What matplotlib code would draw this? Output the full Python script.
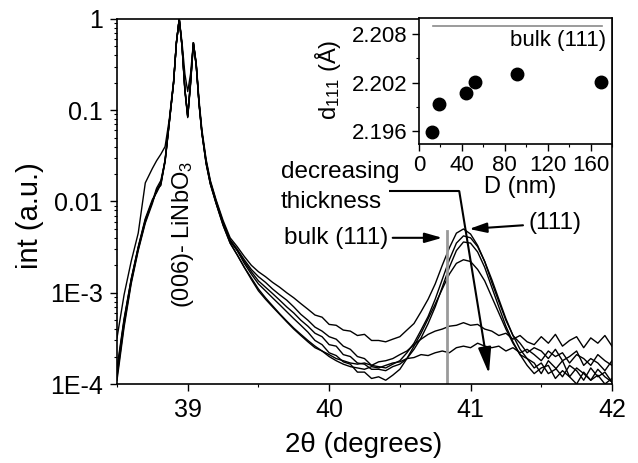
import matplotlib
matplotlib.use('Agg')
import matplotlib.pyplot as plt
from matplotlib.ticker import MultipleLocator, LogLocator, NullFormatter

plt.rcParams['font.family'] = ['Liberation Sans', 'DejaVu Sans']
plt.rcParams['mathtext.default'] = 'regular'

# 2theta sampling (degrees): dense around the (006) LiNbO3 doublet, 0.05 steps after
two_theta = [38.50, 38.55, 38.60, 38.65, 38.70, 38.75, 38.78, 38.81, 38.84, 38.87,
             38.90, 38.92, 38.94, 38.96, 38.98, 39.00, 39.02, 39.04, 39.06, 39.08,
             39.10, 39.13, 39.16, 39.20, 39.25, 39.30,
             39.35, 39.40, 39.45, 39.50, 39.55, 39.60, 39.65, 39.70, 39.75, 39.80,
             39.85, 39.90, 39.95, 40.00, 40.05, 40.10, 40.15, 40.20, 40.25, 40.30,
             40.35, 40.40, 40.45, 40.50, 40.55, 40.60, 40.65, 40.70, 40.75, 40.80,
             40.85, 40.90, 40.95, 41.00, 41.05, 41.10, 41.15, 41.20, 41.25, 41.30,
             41.35, 41.40, 41.45, 41.50, 41.55, 41.60, 41.65, 41.70, 41.75, 41.80,
             41.85, 41.90, 41.95, 42.00]

# normalised intensity of the six films (thick -> thin)
int_a = [3.2e-4, 9.5e-4, 2.2e-3, 4.5e-3, 1.6e-2, 2.3e-2, 2.8e-2, 3.3e-2, 4.0e-2, 8.0e-2,
         0.21, 0.55, 1.0, 0.55, 0.25, 0.16, 0.25, 0.55, 0.33, 0.13,
         0.062, 0.029, 0.017, 0.0105, 0.0062, 0.0040,
         3.2e-3, 2.5e-3, 2.0e-3, 1.7e-3, 1.5e-3, 1.3e-3, 1.15e-3, 1.0e-3, 8.8e-4, 7.6e-4,
         6.6e-4, 5.7e-4, 5.4e-4, 4.5e-4, 4.4e-4, 3.9e-4, 3.8e-4, 3.4e-4, 3.5e-4, 3.0e-4,
         3.0e-4, 2.9e-4, 3.1e-4, 3.3e-4, 3.9e-4, 4.6e-4, 6.2e-4, 8.5e-4, 1.25e-3, 2.0e-3,
         3.1e-3, 4.5e-3, 5.0e-3, 4.4e-3, 3.3e-3, 2.2e-3, 1.3e-3, 8.0e-4, 5.0e-4, 3.4e-4,
         2.8e-4, 2.2e-4, 2.5e-4, 2.3e-4, 1.9e-4, 2.4e-4, 1.8e-4, 2.0e-4, 2.3e-4, 1.6e-4,
         1.9e-4, 1.7e-4, 1.4e-4, 1.8e-4]
int_b = [1.2e-4, 4.5e-4, 1.3e-3, 3.0e-3, 6.0e-3, 1.0e-2, 1.3e-2, 1.6e-2, 2.8e-2, 7.5e-2,
         0.20, 0.55, 1.0, 0.50, 0.17, 0.085, 0.20, 0.55, 0.32, 0.12,
         0.058, 0.027, 0.016, 0.0100, 0.0058, 0.0038,
         3.0e-3, 2.3e-3, 1.8e-3, 1.5e-3, 1.3e-3, 1.1e-3, 9.5e-4, 8.3e-4, 7.0e-4, 5.8e-4,
         5.0e-4, 4.2e-4, 3.8e-4, 3.3e-4, 3.1e-4, 2.6e-4, 2.4e-4, 2.0e-4, 1.9e-4, 1.6e-4,
         1.55e-4, 1.5e-4, 1.65e-4, 1.8e-4, 2.2e-4, 2.8e-4, 3.9e-4, 5.5e-4, 8.5e-4, 1.4e-3,
         2.3e-3, 3.5e-3, 4.2e-3, 4.0e-3, 3.2e-3, 2.2e-3, 1.4e-3, 8.5e-4, 5.2e-4, 3.4e-4,
         2.4e-4, 1.9e-4, 1.7e-4, 1.3e-4, 1.8e-4, 1.5e-4, 1.2e-4, 1.6e-4, 1.4e-4, 1.1e-4,
         1.5e-4, 1.2e-4, 1.35e-4, 1.05e-4]
int_c = [1.5e-4, 5.2e-4, 1.4e-3, 3.2e-3, 6.5e-3, 1.05e-2, 1.25e-2, 1.55e-2, 2.7e-2, 7.3e-2,
         0.20, 0.54, 1.0, 0.50, 0.17, 0.086, 0.20, 0.54, 0.31, 0.12,
         0.058, 0.028, 0.0165, 0.0102, 0.0059, 0.0037,
         2.9e-3, 2.2e-3, 1.7e-3, 1.35e-3, 1.15e-3, 9.8e-4, 8.3e-4, 7.0e-4, 6.0e-4, 5.0e-4,
         4.3e-4, 3.6e-4, 3.3e-4, 2.7e-4, 2.6e-4, 2.1e-4, 2.0e-4, 1.7e-4, 1.65e-4, 1.45e-4,
         1.45e-4, 1.4e-4, 1.55e-4, 1.65e-4, 1.9e-4, 2.4e-4, 3.2e-4, 4.6e-4, 7.0e-4, 1.15e-3,
         1.9e-3, 2.9e-3, 3.6e-3, 3.5e-3, 2.8e-3, 1.9e-3, 1.15e-3, 7.0e-4, 4.3e-4, 2.9e-4,
         2.1e-4, 1.6e-4, 1.3e-4, 1.5e-4, 1.6e-4, 1.15e-4, 1.4e-4, 1.2e-4, 1.0e-4, 1.35e-4,
         1.1e-4, 1.25e-4, 1.0e-4, 1.15e-4]
int_d = [1.1e-4, 4.2e-4, 1.25e-3, 2.9e-3, 5.8e-3, 9.5e-3, 1.35e-2, 1.5e-2, 2.9e-2, 7.6e-2,
         0.20, 0.56, 1.0, 0.49, 0.16, 0.083, 0.19, 0.53, 0.31, 0.115,
         0.056, 0.027, 0.016, 0.0098, 0.0057, 0.0037,
         2.9e-3, 2.1e-3, 1.6e-3, 1.25e-3, 1.05e-3, 8.8e-4, 7.4e-4, 6.2e-4, 5.2e-4, 4.4e-4,
         3.7e-4, 3.0e-4, 2.7e-4, 2.2e-4, 2.05e-4, 1.75e-4, 1.65e-4, 1.35e-4, 1.35e-4, 1.15e-4,
         1.2e-4, 1.1e-4, 1.25e-4, 1.45e-4, 1.9e-4, 2.6e-4, 3.6e-4, 5.2e-4, 7.5e-4, 1.1e-3,
         1.6e-3, 2.1e-3, 2.3e-3, 2.2e-3, 1.8e-3, 1.35e-3, 9.0e-4, 6.0e-4, 4.0e-4, 2.8e-4,
         2.1e-4, 1.9e-4, 1.5e-4, 1.7e-4, 1.3e-4, 1.45e-4, 1.8e-4, 1.2e-4, 1.5e-4, 1.3e-4,
         1.1e-4, 1.45e-4, 1.2e-4, 1.05e-4]
int_e = [1.3e-4, 4.8e-4, 1.35e-3, 3.1e-3, 6.2e-3, 1.0e-2, 1.4e-2, 1.7e-2, 2.8e-2, 7.4e-2,
         0.20, 0.55, 1.0, 0.50, 0.17, 0.085, 0.20, 0.55, 0.31, 0.12,
         0.057, 0.026, 0.0155, 0.0096, 0.0055, 0.0035,
         2.6e-3, 1.9e-3, 1.4e-3, 1.05e-3, 8.5e-4, 7.0e-4, 5.8e-4, 4.8e-4, 4.0e-4, 3.4e-4,
         2.9e-4, 2.5e-4, 2.3e-4, 2.1e-4, 1.9e-4, 1.8e-4, 1.7e-4, 1.65e-4, 1.7e-4, 1.6e-4,
         1.75e-4, 1.8e-4, 1.9e-4, 2.1e-4, 2.3e-4, 2.7e-4, 3.1e-4, 3.5e-4, 3.8e-4, 4.0e-4,
         4.3e-4, 4.4e-4, 4.7e-4, 4.4e-4, 4.5e-4, 4.0e-4, 3.8e-4, 3.4e-4, 3.6e-4, 3.1e-4,
         3.4e-4, 2.9e-4, 2.7e-4, 3.3e-4, 2.8e-4, 3.5e-4, 2.6e-4, 3.0e-4, 3.3e-4, 2.5e-4,
         3.2e-4, 2.8e-4, 3.4e-4, 2.6e-4]
int_f = [1.4e-4, 5.0e-4, 1.4e-3, 3.1e-3, 6.3e-3, 1.0e-2, 1.3e-2, 1.6e-2, 2.8e-2, 7.5e-2,
         0.20, 0.55, 1.0, 0.51, 0.17, 0.087, 0.21, 0.55, 0.32, 0.12,
         0.057, 0.026, 0.0155, 0.0096, 0.0055, 0.0035,
         2.6e-3, 1.9e-3, 1.45e-3, 1.1e-3, 8.8e-4, 7.2e-4, 5.9e-4, 4.9e-4, 4.1e-4, 3.5e-4,
         3.0e-4, 2.6e-4, 2.3e-4, 2.0e-4, 1.8e-4, 1.65e-4, 1.55e-4, 1.5e-4, 1.45e-4, 1.55e-4,
         1.5e-4, 1.6e-4, 1.7e-4, 1.75e-4, 1.9e-4, 1.95e-4, 2.1e-4, 2.05e-4, 2.2e-4, 2.3e-4,
         2.2e-4, 2.5e-4, 2.6e-4, 2.5e-4, 2.8e-4, 2.6e-4, 2.5e-4, 2.6e-4, 2.3e-4, 2.5e-4,
         2.2e-4, 2.4e-4, 2.1e-4, 1.8e-4, 2.3e-4, 2.0e-4, 2.2e-4, 1.7e-4, 2.1e-4, 1.9e-4,
         1.6e-4, 2.1e-4, 1.8e-4, 1.6e-4]
scans = [int_a, int_b, int_c, int_d, int_e, int_f]

bulk_2theta = 40.83      # bulk (111) position
bulk_marker_top = 4.7e-3

# inset: d-spacing vs film thickness
thickness_nm = [12.5, 18.4, 44.2, 52.5, 91.4, 170.0]
d111 = [2.1959, 2.1994, 2.2007, 2.2021, 2.2031, 2.2021]
d_bulk = 2.2090
d_bulk_span = [13, 171]

y_ticks = [1e-4, 1e-3, 1e-2, 1e-1, 1]
y_tick_labels = ['1E-4', '1E-3', '0.01', '0.1', '1']

fig = plt.figure(figsize=(6.38, 4.63), dpi=100)
ax = fig.add_axes([0.1834, 0.1706, 0.7758, 0.7884])

for scan in scans:
    ax.plot(two_theta, scan, color='black', lw=1.0)

ax.set_yscale('log')
ax.set_xlim(38.5, 42)
ax.set_ylim(1e-4, 1)
ax.set_xticks([39, 40, 41, 42])
ax.xaxis.set_minor_locator(MultipleLocator(0.5))
ax.set_yticks(y_ticks, labels=y_tick_labels)
ax.yaxis.set_minor_locator(LogLocator(base=10, subs=range(2, 10)))
ax.yaxis.set_minor_formatter(NullFormatter())
ax.tick_params(which='major', direction='out', length=5, width=1, labelsize=18, pad=5)
ax.tick_params(which='minor', direction='out', length=2.5, width=0.8)
for s in ax.spines.values():
    s.set_linewidth(1.2)

ax.set_xlabel('2θ (degrees)', fontsize=20)
ax.set_ylabel('int (a.u.)', fontsize=21)
ax.xaxis.set_label_coords(0.499, -0.167)
ax.xaxis.label.set_va('center')
ax.yaxis.set_label_coords(-0.176, 0.46)
ax.yaxis.label.set_va('center')

# bulk reference line
ax.plot([bulk_2theta, bulk_2theta], [1e-4, bulk_marker_top], color='#9a9a9a', lw=2)

ax.text(38.97, 4.4e-3, '(006)- LiNbO$_3$', rotation=90, ha='center', va='center', fontsize=17)

ax.annotate('bulk (111)', xy=(40.80, 4.0e-3), xytext=(40.42, 4.0e-3), ha='right', va='center',
            fontsize=17.5,
            arrowprops=dict(arrowstyle='-|>,head_length=0.7,head_width=0.2', color='black',
                            lw=1.5, mutation_scale=15, shrinkA=1, shrinkB=0))
ax.annotate('(111)', xy=(40.99, 5.0e-3), xytext=(41.41, 5.8e-3), ha='left', va='center',
            fontsize=17.5,
            arrowprops=dict(arrowstyle='-|>,head_length=0.7,head_width=0.2', color='black',
                            lw=1.5, mutation_scale=15, shrinkA=2, shrinkB=0))
ax.text(39.66, 0.021, 'decreasing', ha='left', va='center', fontsize=17.5)
ax.text(39.66, 9.9e-3, 'thickness', ha='left', va='center', fontsize=17.5)

# "decreasing thickness" arrow
ax.plot([40.42, 40.92], [0.0130, 0.0130], color='black', lw=1.5, solid_capstyle='butt')
ax.annotate('', xy=(41.13, 1.3e-4), xytext=(40.92, 0.0130),
            arrowprops=dict(arrowstyle='-|>,head_length=0.8,head_width=0.2', color='black',
                            lw=1.5, mutation_scale=20, shrinkA=0, shrinkB=0))

# inset
axin = fig.add_axes([0.6567, 0.689, 0.3025, 0.272])
axin.plot(d_bulk_span, [d_bulk, d_bulk], color='#8a8a8a', lw=1.2)
axin.plot(thickness_nm, d111, 'o', color='black', ms=9)
axin.text(0.97, 0.82, 'bulk (111)', transform=axin.transAxes, ha='right', va='center', fontsize=16)
axin.set_xlim(0, 180)
axin.set_ylim(2.1944, 2.2100)
axin.set_xticks([0, 40, 80, 120, 160])
axin.xaxis.set_minor_locator(MultipleLocator(20))
axin.set_yticks([2.196, 2.202, 2.208], labels=['2.196', '2.202', '2.208'])
axin.yaxis.set_minor_locator(MultipleLocator(0.003))
axin.tick_params(which='major', direction='out', length=5, width=1, labelsize=16, pad=3)
axin.tick_params(which='minor', direction='out', length=2.5, width=0.8)
for s in axin.spines.values():
    s.set_linewidth(1.2)
axin.set_xlabel('D (nm)', fontsize=17)
axin.set_ylabel('d$_{111}$ (Å)', fontsize=17)
axin.xaxis.set_label_coords(0.523, -0.341)
axin.xaxis.label.set_va('center')
axin.yaxis.set_label_coords(-0.47, 0.508)
axin.yaxis.label.set_va('center')

fig.savefig('out.png', dpi=100)
